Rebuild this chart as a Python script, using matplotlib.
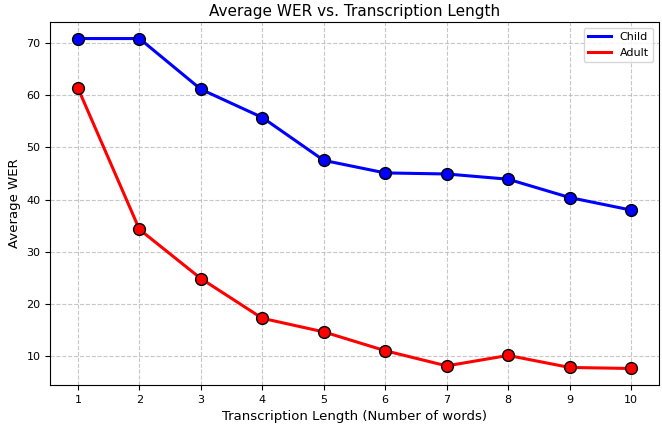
import numpy as np
import matplotlib.pyplot as plt
from matplotlib.lines import Line2D

lengths = [1, 2, 3, 4, 5, 6, 7, 8, 9, 10]
child_wer = [70.8, 70.8, 61.1, 55.7, 47.5, 45.1, 44.9, 43.9, 40.4, 38.0]
adult_wer = [61.3, 34.3, 24.9, 17.3, 14.7, 11.1, 8.2, 10.2, 7.9, 7.7]

fig, ax = plt.subplots(figsize=(6.62, 4.24), dpi=100)

ax.plot(lengths, child_wer, color='blue', linewidth=2.2, label='Child',
        marker='o', markersize=8.5, markerfacecolor='blue', markeredgecolor='black')
ax.plot(lengths, adult_wer, color='red', linewidth=2.2, label='Adult',
        marker='o', markersize=8.5, markerfacecolor='red', markeredgecolor='black')

ax.set_title('Average WER vs. Transcription Length', fontsize=11, pad=4)
ax.set_xlabel('Transcription Length (Number of words)', fontsize=9.5)
ax.set_ylabel('Average WER', fontsize=9.5)
ax.set_xticks(lengths)
ax.tick_params(labelsize=8)
ax.grid(True, linestyle='--', alpha=0.7)

# legend shows plain lines
handles = [Line2D([], [], color='blue', linewidth=2.2),
           Line2D([], [], color='red', linewidth=2.2)]
ax.legend(handles, ['Child', 'Adult'], loc='upper right', fontsize=8)

fig.subplots_adjust(left=0.076, right=0.995, top=0.948, bottom=0.092)
fig.savefig('out.png')
